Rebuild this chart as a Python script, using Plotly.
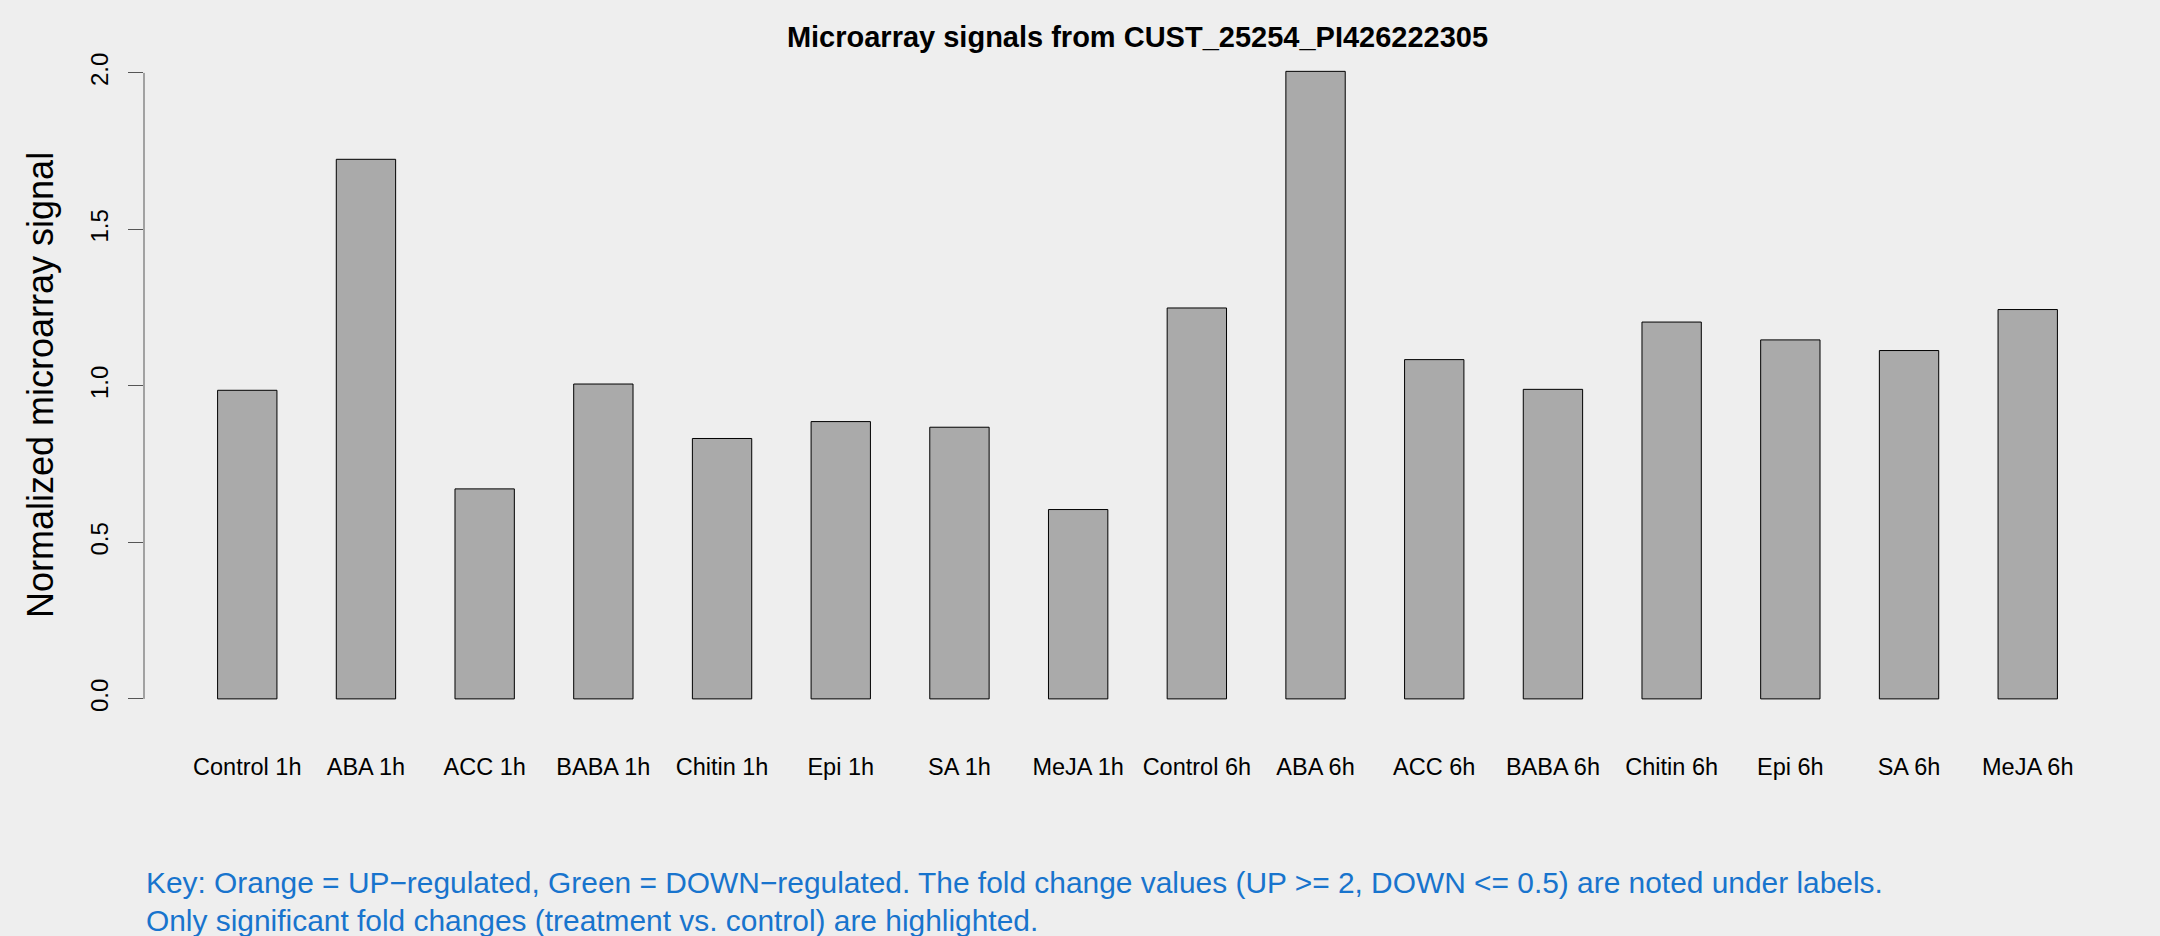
import plotly.graph_objects as go

categories = ["Control 1h", "ABA 1h", "ACC 1h", "BABA 1h", "Chitin 1h", "Epi 1h", "SA 1h", "MeJA 1h",
              "Control 6h", "ABA 6h", "ACC 6h", "BABA 6h", "Chitin 6h", "Epi 6h", "SA 6h", "MeJA 6h"]
signals = [0.986, 1.724, 0.671, 1.006, 0.832, 0.886, 0.868, 0.605,
           1.249, 2.005, 1.084, 0.989, 1.204, 1.147, 1.113, 1.244]
ytick_vals = [0.0, 0.5, 1.0, 1.5, 2.0]
ytick_text = ["0.0", "0.5", "1.0", "1.5", "2.0"]

title_text = "Microarray signals from CUST_25254_PI426222305"
ylabel = "Normalized microarray signal"
key_lines = [
    "Key: Orange = UP\u2212regulated, Green = DOWN\u2212regulated. The fold change values (UP >= 2, DOWN <= 0.5) are noted under labels.",
    "Only significant fold changes (treatment vs. control) are highlighted.",
]

W, H = 2160, 936
L, R_, T, B = 144, 29, 46, 212
plot_h = H - T - B
FONT = "Liberation Sans, Arial, Helvetica, sans-serif"
BG = "#eeeeee"

fig = go.Figure(go.Bar(
    x=categories, y=signals,
    marker=dict(color="#aaaaaa", line=dict(color="#000000", width=1)),
    hoverinfo="x+y",
))

def ypaper(py):
    return (H - B - py) / plot_h

annotations = [
    dict(text=ylabel, textangle=-90, xref="paper", yref="paper",
         x=(40 - L) / (W - L - R_), y=0.5, xanchor="center", yanchor="middle",
         showarrow=False, font=dict(size=36, color="#000000", family=FONT)),
]
for line, py in zip(key_lines, [882, 920]):
    annotations.append(dict(text=line, xref="paper", yref="paper", x=0, y=ypaper(py),
                            xanchor="left", yanchor="middle", showarrow=False,
                            font=dict(size=29.9, color="#1874cd", family=FONT)))

fig.update_layout(
    width=W, height=H,
    margin=dict(l=L, r=R_, t=T, b=B, pad=0),
    paper_bgcolor=BG, plot_bgcolor=BG,
    bargap=0.5,
    showlegend=False,
    title=dict(text="<b>" + title_text + "</b>", x=(L + (W - L - R_) / 2) / W, xanchor="center",
               y=1 - 37 / H, yanchor="middle", font=dict(size=29, color="#000000", family=FONT)),
    xaxis=dict(range=[-0.87, 15.87], showgrid=False, zeroline=False, showline=False,
               ticks="", tickfont=dict(size=23.5, color="#000000", family=FONT),
               ticklabelstandoff=26, fixedrange=True),
    yaxis=dict(range=[-0.0802, 2.086], showgrid=False, zeroline=False, showline=False,
               tickvals=ytick_vals, ticktext=ytick_text, tickangle=-90,
               ticks="outside", ticklen=15, tickwidth=1, tickcolor="#555555",
               ticklabelstandoff=10,
               tickfont=dict(size=24, color="#000000", family=FONT), fixedrange=True),
    annotations=annotations,
    shapes=[dict(type="line", xref="paper", yref="y", x0=0, x1=0, y0=ytick_vals[0], y1=ytick_vals[-1],
                 line=dict(color="#555555", width=1))],
)

fig.write_html(
    "out.html",
    config={"displayModeBar": False},
    post_script="document.body.style.margin='0';document.body.style.overflow='hidden';"
                "document.body.style.background='#eeeeee';",
)
